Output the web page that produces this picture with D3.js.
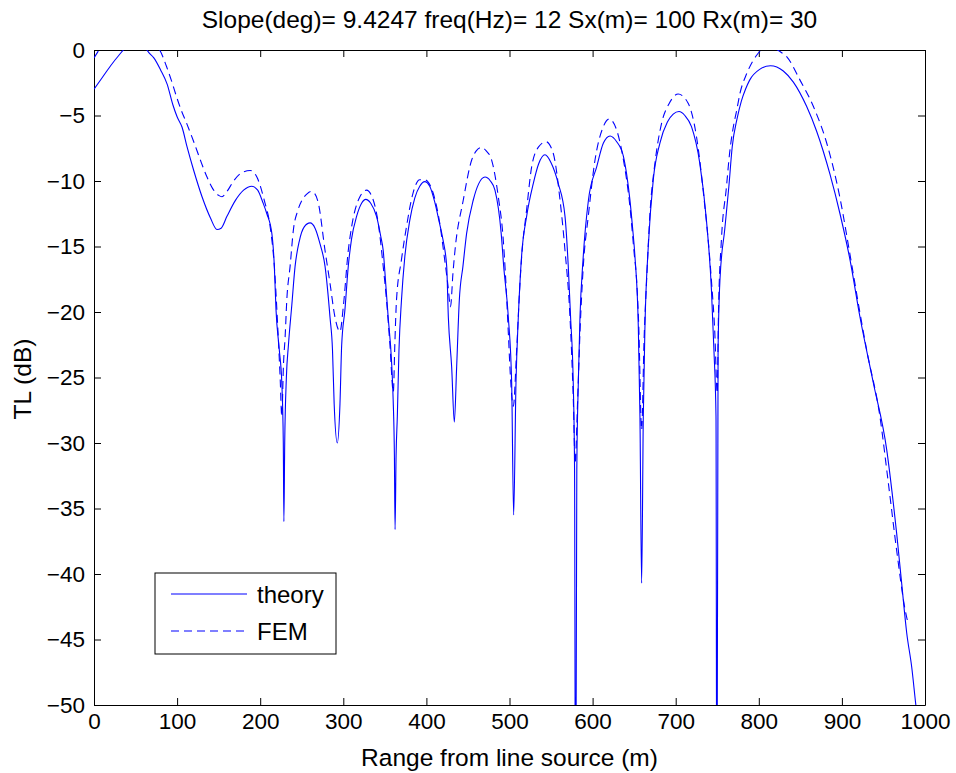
<!DOCTYPE html>
<html>
<head>
<meta charset="utf-8">
<script src="https://cdn.jsdelivr.net/npm/d3@7"></script>
<style>
  body { margin: 0; background: #fff; }
  svg { font-family: "Liberation Sans", Arial, sans-serif; }
</style>
</head>
<body>
<div id="chart"></div>
<script>
// values: range (m) and TL (dB)
var theoryX = [0,10,20,30,40,50,60,66,72,80,88,95,100,106,112,120,130,140,148,153,160,170,180,190,197,203,208,214,217,219,223,226,227.8,228.5,229.5,231.5,234,238,242,247,253,260,266,272,278,284,287,289,292.8,296,298,302,306,310,316,322,327,333,340,345,348,351,354,358,360,361.5,362.3,363.5,365,367,370,374,380,386,392,398,404,410,415,420,424.4,426.4,430.4,433.6,436.4,439.6,444,448.4,456.4,463,470.5,477,482.5,490,493,498.6,502.6,505,507.8,510.6,514.7,520.6,528.6,535,542.7,550,558.7,566.8,570.7,573.5,576.7,578.3,579.5,581,582.8,584.8,588.5,595,605,613,621,629,637,641,645,648,651,655,657,659,661,663,667,673,681,690,697,704,711,719,729,737,743,746,748.5,749.5,751,753.3,759,764,768,774,779,784,789,801,814,829.5,841.6,857.5,869.6,885.7,897.7,909.7,921.8,937.8,953.9,961.9,965.9,971.9,978,984,989,995,1000];
var theoryY = [-3.0,-2.1,-1.2,-0.4,0.3,0.6,0.3,-0.2,-0.6,-1.5,-2.6,-4.2,-5.1,-5.9,-7.4,-9.2,-11.2,-12.8,-13.7,-13.6,-12.7,-11.5,-10.7,-10.4,-10.7,-11.6,-12.5,-14.0,-16.5,-19.8,-22.9,-25.4,-30,-36.0,-30,-25,-22.5,-19.5,-16.5,-14.6,-13.5,-13.2,-13.6,-14.8,-16.5,-20.4,-22.9,-27,-30,-27,-22.6,-19.8,-16.5,-14.4,-12.7,-11.7,-11.4,-11.7,-12.7,-14.2,-15.3,-17.8,-20.4,-23.7,-26.7,-31,-36.6,-31,-28,-22.9,-19.1,-15.8,-13.0,-11.3,-10.4,-10.05,-10.4,-11.6,-13.0,-14.5,-16.5,-20.4,-24.2,-28.4,-24.2,-19.1,-16.5,-14.0,-11.45,-10.2,-9.7,-10.0,-10.7,-14.0,-16.5,-20.4,-25.4,-35.5,-25.4,-20.4,-15.6,-12.7,-10.2,-8.7,-8.0,-8.6,-10.2,-12.7,-16.5,-20.4,-25.4,-32,-65,-32,-25.4,-20.4,-16.0,-11.45,-8.9,-7.1,-6.56,-7.0,-8.1,-9.5,-11.5,-13.5,-15.8,-21.1,-28,-40.7,-28,-21.1,-15,-9.9,-7.1,-5.5,-4.9,-4.7,-5.0,-5.85,-8.65,-13,-18.3,-22.9,-28,-65,-22.9,-17.5,-13.7,-10.4,-7.4,-5.2,-3.9,-3.0,-2.3,-1.48,-1.2,-1.6,-2.45,-4.3,-6.2,-9.5,-12.5,-16,-20.4,-25.4,-30.5,-34.6,-36.9,-40.7,-44.5,-47.1,-50,-53,-56];

var femX = [0,6,15,30,45,60,72,79,87.5,93,99.5,105,111.5,120,128,136,143,150,154,160,168,177,188,196,205,212,217,221,224,226,228,230,232,236,240,245,250,256,261,266,270,278,284,290,296,300,306,310,320,328,336,342,348,352,356,360.2,362,364,370,376,384,392,398,408,416,422,426,429,432,434.4,444.4,454.5,460,466.5,472,478.5,486.5,492.5,495,498.6,501,504.6,508.6,512.6,514.6,520.6,526.7,535,543.9,552.7,560.8,566.8,572.8,576.8,579,582,584.8,588.8,594.8,602.9,612.9,620,628.9,636,645,650,653,655.5,659,662,665,669,675,683,692,703,715,725,733,743,747,750,751.5,755,761,765,769,773.4,777.4,785.5,797.4,803,812,820,825,833.5,849.6,865.6,881.7,897.7,909.7,921,929.8,945.8,955.8,965.9,976,979];
var femY = [-0.6,0,1.0,1.8,1.8,1.2,0.4,0,-1.3,-2.3,-3.6,-4.6,-5.6,-7.0,-8.4,-9.7,-10.6,-11.1,-11.2,-10.8,-10.0,-9.4,-9.2,-9.7,-11.5,-13.5,-16.5,-21,-25,-28,-24,-21.9,-19.1,-16.5,-13.7,-12.3,-11.5,-11.0,-10.8,-11.0,-11.7,-15.3,-17.8,-20.4,-21.5,-19.6,-15.3,-13.5,-11.2,-10.7,-11.45,-13.2,-16.5,-19.1,-22.4,-26.1,-22.5,-19.1,-16,-13.5,-10.9,-9.9,-9.9,-10.9,-13.2,-16,-18,-19.6,-17,-15.3,-11.45,-8.4,-7.7,-7.43,-7.7,-8.4,-11.2,-14.5,-17,-21.6,-24.8,-27.2,-22.9,-17.8,-15.8,-12.2,-8.9,-7.4,-7.0,-7.9,-11.45,-15.3,-20.4,-26.7,-31.5,-26.7,-21.6,-16.5,-12.7,-8.4,-5.85,-5.27,-6.1,-8.0,-12,-15.5,-17.6,-21,-29,-22,-17.6,-12.5,-8.65,-5.6,-4.1,-3.36,-4.07,-6.6,-10.7,-17.6,-21.5,-26.2,-20,-14.5,-10.5,-7.8,-6.0,-4.6,-3.3,-1.8,-0.4,0,0.3,0.1,-0.1,-0.5,-2.3,-4.3,-7.1,-11.3,-15.6,-19.8,-22.9,-28,-33,-38.2,-42.7,-43.6];

var xTicks = [0,100,200,300,400,500,600,700,800,900,1000];
var yTicks = [0,-5,-10,-15,-20,-25,-30,-35,-40,-45,-50];
var seriesNames = ["theory", "FEM"];
var title = "Slope(deg)= 9.4247 freq(Hz)= 12 Sx(m)= 100 Rx(m)= 30";

var margin = {top: 50, right: 31, bottom: 68, left: 94},
    width = 956 - margin.left - margin.right,
    height = 773 - margin.top - margin.bottom;

var svg = d3.select("#chart")
  .append("svg")
    .attr("width", 956)
    .attr("height", 773)
  .append("g")
    .attr("transform", "translate(" + margin.left + "," + margin.top + ")");

var x = d3.scaleLinear().domain([0, 1000]).range([0, width]);
var y = d3.scaleLinear().domain([-50, 0]).range([height, 0]);

svg.append("clipPath").attr("id", "clip")
  .append("rect").attr("width", width).attr("height", height);

// axes, ticks inside the box like matlab
function styleAxis(g) {
  g.selectAll(".domain").attr("stroke", "#000");
  g.selectAll(".tick line").attr("stroke", "#000");
  g.selectAll("text").attr("fill", "#000").style("font-size", "22.5px");
}
svg.append("g")
  .attr("transform", "translate(0," + height + ")")
  .call(d3.axisBottom(x).tickValues(xTicks).tickFormat(d3.format("d")).tickSize(-7).tickSizeOuter(0).tickPadding(8))
  .call(styleAxis);
svg.append("g")
  .call(d3.axisLeft(y).tickValues(yTicks).tickFormat(d3.format("d")).tickSize(-7).tickSizeOuter(0).tickPadding(9))
  .call(styleAxis);
svg.append("g")
  .call(d3.axisTop(x).tickValues(xTicks).tickSize(-7).tickSizeOuter(0).tickFormat(""))
  .call(styleAxis);
svg.append("g")
  .attr("transform", "translate(" + width + ",0)")
  .call(d3.axisRight(y).tickValues(yTicks).tickSize(-7).tickSizeOuter(0).tickFormat(""))
  .call(styleAxis);

var line = d3.line()
  .x(function(d) { return x(d[0]); })
  .y(function(d) { return y(d[1]); })
  .curve(d3.curveMonotoneX);

var theory = theoryX.map(function(v, i) { return [v, theoryY[i]]; });
var fem = femX.map(function(v, i) { return [v, femY[i]]; });

var plot = svg.append("g").attr("clip-path", "url(#clip)");
plot.append("path")
  .datum(theory)
  .attr("fill", "none")
  .attr("stroke", "#0000ff")
  .attr("stroke-width", 1.1)
  .attr("d", line);
plot.append("path")
  .datum(fem)
  .attr("fill", "none")
  .attr("stroke", "#0000ff")
  .attr("stroke-width", 1.1)
  .attr("stroke-dasharray", "8,5")
  .attr("d", line);

// title and labels
svg.append("text")
  .attr("x", width / 2)
  .attr("y", -22)
  .attr("text-anchor", "middle")
  .style("font-size", "24.5px")
  .text(title);
svg.append("text")
  .attr("x", width / 2)
  .attr("y", height + 61)
  .attr("text-anchor", "middle")
  .style("font-size", "24.5px")
  .text("Range from line source (m)");
svg.append("text")
  .attr("transform", "rotate(-90)")
  .attr("x", -(379 - margin.top))
  .attr("y", -63)
  .attr("text-anchor", "middle")
  .style("font-size", "24.5px")
  .text("TL (dB)");

// legend
var lg = svg.append("g").attr("transform", "translate(" + (155 - margin.left) + "," + (573 - margin.top) + ")");
lg.append("rect")
  .attr("width", 181).attr("height", 81)
  .attr("fill", "#fff").attr("stroke", "#000");
seriesNames.forEach(function(name, i) {
  var cy = 21 + i * 37;
  lg.append("line")
    .attr("x1", 16).attr("x2", 92)
    .attr("y1", cy).attr("y2", cy)
    .attr("stroke", "#0000ff")
    .attr("stroke-width", 1.1)
    .attr("stroke-dasharray", i == 1 ? "8,5" : null);
  lg.append("text")
    .attr("x", 102).attr("y", cy + 8.5)
    .style("font-size", "24px")
    .text(name);
});
</script>
</body>
</html>
